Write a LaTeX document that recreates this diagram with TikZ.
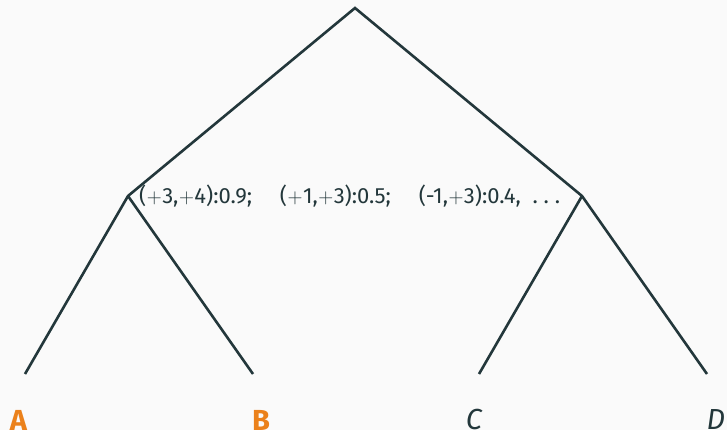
\documentclass[tikz,border=0pt]{standalone}
\usepackage{fontspec}
\setmainfont{Fira Sans}
\definecolor{mDark}{HTML}{23373B}
\definecolor{mOrange}{HTML}{EB811B}
\definecolor{mBg}{HTML}{FAFAFA}
\newcommand{\pl}{\kern0.5pt$+$\kern0.5pt}
\begin{document}
\begin{tikzpicture}[x=1pt,y=-1pt,
  edge/.style={draw=mDark,line width=2.6pt},
  leaflbl/.style={font=\fontsize{29}{32}\selectfont,text=mDark,inner sep=0pt},
  alertlbl/.style={font=\fontsize{29}{32}\selectfont\bfseries,text=mOrange,inner sep=0pt}]
\fill[mBg] (0,0) rectangle (727,430);
\useasboundingbox (0,0) rectangle (727,430);
\coordinate (r) at (355,8);
\coordinate (l) at (128,196);
\coordinate (rr) at (582,196);
\coordinate (a) at (25,374);
\coordinate (b) at (253,374);
\coordinate (c) at (479,374);
\coordinate (d) at (707,374);
\draw[edge] (a) -- (l) -- (r) -- (rr) -- (d);
\draw[edge] (l) -- (b);
\draw[edge] (rr) -- (c);
\node[anchor=west,inner sep=0pt,text=mDark,font=\fontsize{22}{26}\selectfont] (lab) at (139,196) {(\pl3,\pl4):0.9;\quad\ (\pl1,\pl3):0.5;\quad\ (-1,\pl3):0.4,\ \ .\ .\ .};
\node[alertlbl] (la) at (18.5,420) {A};
\node[alertlbl] (lb) at (261,420) {B};
\node[leaflbl] (lc) at (474,420) {\itshape C};
\node[leaflbl] (ld) at (716,420) {\itshape D};
\end{tikzpicture}
\end{document}
